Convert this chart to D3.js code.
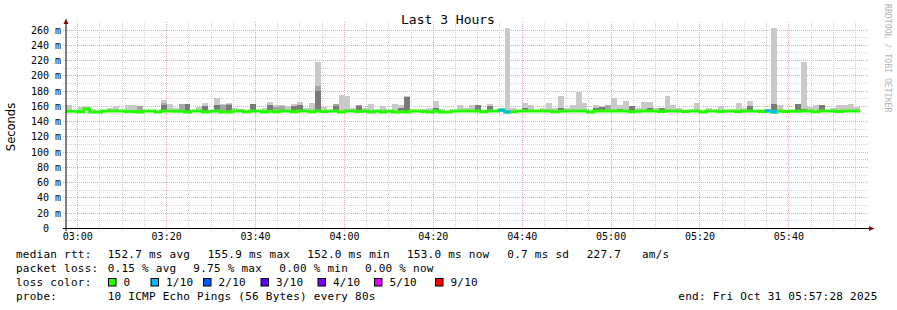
<!DOCTYPE html>
<html><head><meta charset="utf-8">
<script src="https://cdn.jsdelivr.net/npm/d3@7"></script>
<style>body{margin:0;background:#fff}svg{display:block}</style>
</head><body>
<svg id="c" width="897" height="310"></svg>
<script>
// ---- data ----
const startTime = Date.UTC(2025, 9, 31, 2, 57, 28);
const endTime = Date.UTC(2025, 9, 31, 5, 57, 28);
const stepSeconds = 80;
const medianRtt = [
153.0,153.0,152.4,155.9,152.1,152.1,153.4,153.4,153.4,153.4,
152.6,152.6,152.1,153.4,153.4,152.1,153.4,153.4,153.0,153.0,
152.1,153.4,153.4,152.1,153.0,153.4,152.1,152.1,153.4,153.4,
152.4,153.4,153.4,152.1,153.0,152.4,153.4,153.4,152.4,153.4,
153.4,152.4,153.4,152.6,153.4,153.4,152.1,153.4,153.4,152.6,
153.4,152.1,153.4,152.1,153.4,152.1,152.4,152.1,153.4,153.4,
152.6,152.1,153.4,152.1,152.1,153.4,153.4,153.4,153.4,153.4,
152.4,153.4,153.4,154.3,152.1,152.4,153.4,153.4,153.4,153.4,
153.4,153.4,152.4,153.0,153.4,153.4,153.4,153.4,152.1,153.4,
153.4,153.4,153.4,153.4,153.4,152.4,153.0,153.4,153.4,153.4,
152.6,153.4,153.4,153.4,152.6,153.4,153.4,152.1,153.4,153.4,
152.6,153.4,153.4,152.6,153.4,153.4,153.4,152.6,153.4,152.1,
153.4,152.6,153.4,153.0,153.4,153.4,152.4,153.4,153.4,153.4,
152.6,153.4,153.4,153.4];
// top of the lightest smoke band (0 = none visible)
const smokeMax = [
161.5,0,159,160,156.5,0,0,157.5,160,0,
161.5,161.5,160,0,0,0,168,163,157,162,
162,0,158,164,0,170,162,164,157.5,156.5,
0,162.5,0,157.5,165,161.5,161.5,160,162.8,165,
157.5,164,218,159,0,162,174.6,173.3,157.6,161.5,
157.5,162.8,0,160,0,162.8,161.5,173.5,0,0,
156.3,157.5,166.8,156.3,0,0,161.5,157.5,161.5,161.5,
0,162.8,0,157.5,262,157.5,155,164,161.5,0,
157.5,164,157.5,173,157.5,161.5,178.6,164,0,161.5,
160,161.5,170,161.5,166.8,160,157.5,165,165,157.5,
157.5,173,161.5,157.5,0,0,164,0,157.5,0,
160,0,0,164,157.5,166.8,155,0,156.3,262,
161.5,0,0,162.5,218,159,161.5,161.5,0,157.5,
161.5,161.5,162.8,159];
// top of the medium grey band
const smokeMid = [
0,0,0,0,0,0,0,0,0,0,
0,0,160,0,0,0,164,0,0,162,
0,0,0,0,0,0,161.5,163,0,0,
0,0,0,0,0,159,160,0,0,0,
0,0,185.6,0,0,162,0,0,0,161.5,
0,0,0,0,0,0,0,0,0,0,
0,0,0,0,0,0,0,0,0,0,
0,0,0,0,0,0,0,0,0,0,
0,0,0,0,0,0,0,0,0,0,
0,161.5,0,0,0,0,0,0,0,0,
0,0,0,0,0,0,0,0,0,0,
0,0,0,0,0,0,0,0,0,0,
0,0,0,0,0,0,0,0,0,0,
0,0,0,0];
// top of the dark grey band
const smokeDark = [
0,0,0,157,0,0,0,0,0,0,
0,0,0,0,0,0,161.5,0,0,0,
162,0,0,160,0,161.5,0,161.5,0,0,
0,162.5,0,0,161.5,0,0,0,160,161.5,
0,0,179.5,0,0,160,0,0,0,160,
0,0,0,0,0,0,157.5,171,0,0,
0,0,157.5,0,0,0,0,0,0,161.5,
0,160,0,0,0,0,0,157.5,0,0,
0,0,0,157.5,0,0,0,0,0,157.5,
158.9,0,0,156.3,0,160,0,0,157.5,0,
157.5,0,0,0,0,0,0,0,0,0,
0,0,0,0,0,160,0,0,0,162,
0,0,0,162.5,156.3,0,0,161.5,0,0,
0,0,0,0];
const lossSteps = [73, 74, 118, 119];
const lossLevel = [1, 1, 1, 1];
const yTickValues = [0,20,40,60,80,100,120,140,160,180,200,220,240,260];
const lossLabels = ["0","1/10","2/10","3/10","4/10","5/10","9/10"];
const lossColors = ["#26ff00","#00b8ff","#0059ff","#5e00ff","#7e00ff","#dd00ff","#ff0000"];
const statsRtt = ["152.7 ms avg","155.9 ms max","152.0 ms min","153.0 ms now","0.7 ms sd","227.7","am/s"];
const statsLoss = ["0.15 % avg","9.75 % max","0.00 % min","0.00 % now"];

// ---- drawing ----
const svg = d3.select('#c');
const mono = "'DejaVu Sans Mono', monospace";
const x = d3.scaleUtc().domain([new Date(startTime), new Date(endTime)]).range([66, 866]);
const y = d3.scaleLinear().domain([0, 260]).range([228, 29.5]);
const px = v => Math.round(v) + 0.5;

// grid
const grid = svg.append('g').attr('fill', 'none').attr('stroke-width', 1).attr('stroke-dasharray', '1,1');
d3.range(10, 261, 10).forEach(v => {
  grid.append('line').attr('x1', 63).attr('x2', 869).attr('y1', px(y(v))).attr('y2', px(y(v)))
    .attr('stroke', v % 20 === 0 ? '#f2a3a3' : '#d2d2d2');
});
const minorTimes = d3.utcMinute.every(5).range(new Date(startTime), new Date(endTime));
minorTimes.forEach(t => {
  const major = t.getUTCMinutes() % 20 === 0;
  grid.append('line').attr('y1', 231).attr('y2', 22).attr('x1', px(x(t))).attr('x2', px(x(t)))
    .attr('stroke', major ? '#f2a3a3' : '#d2d2d2');
});

// smoke
const n = medianRtt.length;
const tx = i => x(new Date(startTime + i * stepSeconds * 1000));
const smoke = svg.append('g').attr('shape-rendering', 'crispEdges');
function band(arr, color) {
  d3.range(n).forEach(i => {
    if (!arr[i]) return;
    const lo = medianRtt[i] - 1.2;
    const top = y(arr[i]);
    smoke.append('rect').attr('x', Math.round(tx(i))).attr('width', Math.round(tx(i + 1)) - Math.round(tx(i)))
      .attr('y', Math.round(top)).attr('height', Math.max(0, Math.round(y(lo)) - Math.round(top)))
      .attr('fill', color);
  });
}
band(smokeMax, '#c9c9c9');
band(smokeMid, '#a6a6a6');
band(smokeDark, '#7a7a7a');

// median line
const pts = d3.range(n).map(i => [tx(i), y(medianRtt[i])]);
pts.push([tx(n), y(medianRtt[n - 1])]);
svg.append('path').attr('d', d3.line().curve(d3.curveStepAfter)(pts))
  .attr('fill', 'none').attr('stroke', lossColors[0]).attr('stroke-width', 3);
lossSteps.forEach((s, k) => {
  svg.append('path').attr('d', `M${tx(s)},${y(medianRtt[s])}H${tx(s + 1)}`)
    .attr('stroke', lossColors[lossLevel[k]]).attr('stroke-width', 3).attr('fill', 'none');
});

// axes
svg.append('line').attr('x1', 66).attr('x2', 66).attr('y1', 231).attr('y2', 23).attr('stroke', '#000');
svg.append('line').attr('x1', 63).attr('x2', 869).attr('y1', 228.5).attr('y2', 228.5).attr('stroke', '#000');
svg.append('path').attr('d', 'M63.5,24L66,18.5L68.5,24Z').attr('fill', '#7f1010');
svg.append('path').attr('d', 'M869,226L874.5,228.5L869,231Z').attr('fill', '#7f1010');

// y tick labels
const yAxis = d3.axisLeft(y).tickValues(yTickValues).tickSize(0).tickPadding(0)
  .tickFormat(v => v === 0 ? '0' : v + ' m');
const yg = svg.append('g').attr('transform', 'translate(61,0)').call(yAxis);
yg.select('.domain').remove();
yg.selectAll('text').attr('font-family', mono).attr('font-size', 10).attr('fill', '#000')
  .attr('dy', '0.35em').attr('x', d => d === 0 ? -12 : 0);

// x tick labels
const majorTimes = d3.utcMinute.every(20).range(new Date(startTime), new Date(endTime));
const xAxis = d3.axisBottom(x).tickValues(majorTimes).tickSize(0).tickPadding(0)
  .tickFormat(d3.utcFormat('%H:%M'));
const xg = svg.append('g').attr('transform', 'translate(0,232)').call(xAxis);
xg.select('.domain').remove();
xg.selectAll('text').attr('font-family', mono).attr('font-size', 10).attr('fill', '#000').attr('dy', '0.8em');

// title
svg.append('text').attr('x', 448).attr('y', 24).attr('text-anchor', 'middle')
  .attr('font-family', mono).attr('font-size', 13).text('Last 3 Hours');
// y label
svg.append('text').attr('transform', 'translate(15,127) rotate(-90)').attr('text-anchor', 'middle')
  .attr('font-family', "'DejaVu Sans', sans-serif").attr('font-size', 11.5).text('Seconds');
// watermark
svg.append('text').attr('transform', 'translate(885,4) rotate(90)')
  .attr('font-family', mono).attr('font-size', 8.2).attr('fill', '#b4b4b4').text('RRDTOOL / TOBI OETIKER');

// legend
const leg = svg.append('g').attr('font-family', mono).attr('font-size', 11).attr('letter-spacing', 0.25).attr('fill', '#000')
  .style('white-space', 'pre');
function t(xp, yp, s) { leg.append('text').attr('x', xp).attr('y', yp).text(s); }
t(16, 258, 'median rtt:');
[107.7, 207.7, 307.3, 407, 507.3, 586.7, 642].forEach((xp, i) => t(xp, 258, statsRtt[i]));
t(16, 272, 'packet loss:');
[107.7, 193.3, 279.3, 365].forEach((xp, i) => t(xp, 272, statsLoss[i]));
t(16, 286, 'loss color:');
const boxX = [108.5, 151, 203.5, 261, 318, 374.5, 435.5];
lossLabels.forEach((l, i) => {
  leg.append('rect').attr('x', boxX[i]).attr('y', 278.5).attr('width', 7.5).attr('height', 7.5)
    .attr('fill', lossColors[i]).attr('stroke', '#000').attr('stroke-width', 1);
  t(boxX[i] + 15, 286, l);
});
t(16, 300, 'probe:');
t(107.7, 300, '10 ICMP Echo Pings (56 Bytes) every 80s');
t(678.3, 300, 'end: Fri Oct 31 05:57:28 2025');
</script>
</body></html>
